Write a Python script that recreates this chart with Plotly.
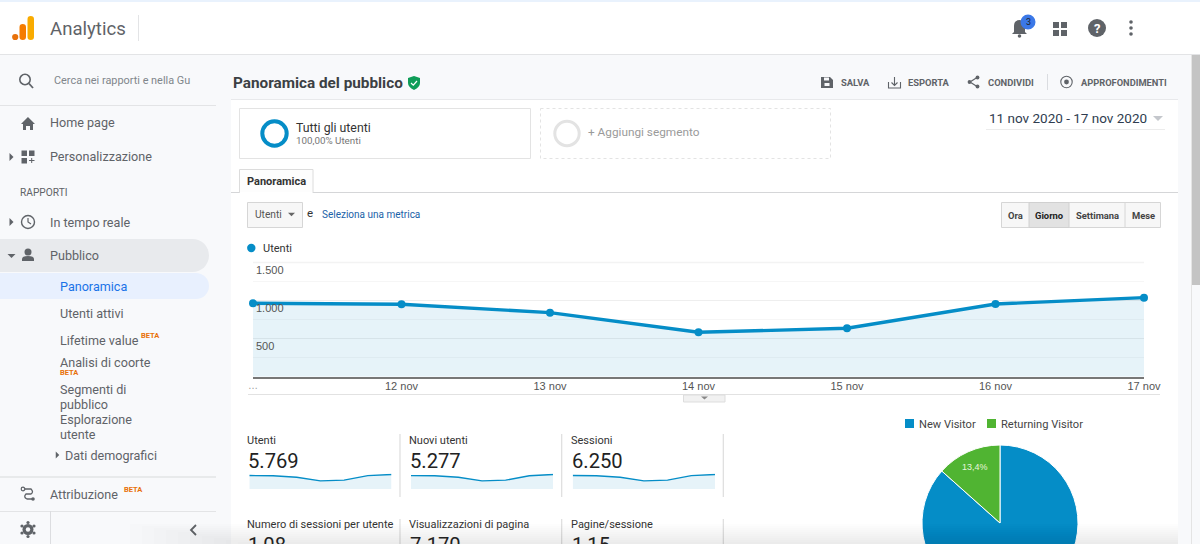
import re
import plotly.graph_objects as go

# ---------- data ----------
days = ["…", "12 nov", "13 nov", "14 nov", "15 nov", "16 nov", "17 nov"]
users = [964, 951, 841, 583, 636, 955, 1038]
new_users = [852, 841, 743, 515, 562, 844, 920]
sessions = [1010, 996, 881, 610, 666, 1000, 1087]
y_ticks = [500, 1000, 1500]
y_tick_labels = ["500", "1.000", "1.500"]
y_minor_ticks = [250, 750, 1250]
pie_labels = ["New Visitor", "Returning Visitor"]
pie_values = [86.6, 13.4]
pie_returning_text = "13,4%"

W, H = 1200, 620
BLUE, GREEN = "#058dc7", "#50b432"
GREY = "#5f6368"
FONT = "Roboto"
ARIAL = "Liberation Sans"
SIDE = 12.6

def px(x): return x / W
def py(y): return 1 - y / H

shapes, notes = [], []

def rect(x0, y0, x1, y1, fill=None, line=None, lw=1, dash=None, layer="below", op=1):
    shapes.append(dict(type="rect", xref="paper", yref="paper", x0=px(x0), x1=px(x1), y0=py(y0), y1=py(y1),
                       fillcolor=fill or "rgba(0,0,0,0)", opacity=op, layer=layer,
                       line=dict(color=line or "rgba(0,0,0,0)", width=lw if line else 0, dash=dash or "solid")))

def hline(x0, x1, y, c="#e0e0e0", lw=1):
    shapes.append(dict(type="line", xref="paper", yref="paper", x0=px(x0), x1=px(x1), y0=py(y), y1=py(y),
                       line=dict(color=c, width=lw), layer="below"))

def vline(x, y0, y1, c="#e0e0e0", lw=1):
    shapes.append(dict(type="line", xref="paper", yref="paper", x0=px(x), x1=px(x), y0=py(y0), y1=py(y1),
                       line=dict(color=c, width=lw), layer="below"))

def circle(cx, cy, r, fill=None, line=None, lw=1, layer="above"):
    shapes.append(dict(type="circle", xref="paper", yref="paper", x0=px(cx - r), x1=px(cx + r), y0=py(cy + r), y1=py(cy - r),
                       fillcolor=fill or "rgba(0,0,0,0)", layer=layer,
                       line=dict(color=line or "rgba(0,0,0,0)", width=lw if line else 0)))

def path(d, fill=None, line=None, lw=1, layer="above"):
    toks = re.findall(r"[A-Za-z]|-?[\d.]+", d)
    out, isx = [], True
    for t in toks:
        if t.isalpha():
            out.append(t)
        else:
            out.append(f"{px(float(t)):.6f}" if isx else f"{py(float(t)):.6f}")
            isx = not isx
    shapes.append(dict(type="path", xref="paper", yref="paper", path=" ".join(out), layer=layer,
                       fillcolor=fill or "rgba(0,0,0,0)",
                       line=dict(color=line or "rgba(0,0,0,0)", width=lw if line else 0)))

def text(x, y, s, size=SIDE, color=GREY, anchor="left", family=FONT, bold=False):
    if anchor == "left":
        x -= 2  # annotation box padding
    notes.append(dict(xref="paper", yref="paper", x=px(x), y=py(y), text=f"<b>{s}</b>" if bold else s, showarrow=False,
                      xanchor=anchor, yanchor="middle", align=anchor,
                      font=dict(size=size, color=color, family=family)))

def tri(cx, cy, w, h, c, down=True):
    if down:
        path(f"M{cx-w/2} {cy-h/2} L{cx+w/2} {cy-h/2} L{cx} {cy+h/2} Z", fill=c)
    else:
        path(f"M{cx-h/2} {cy-w/2} L{cx+h/2} {cy} L{cx-h/2} {cy+w/2} Z", fill=c)

# ---------- page regions ----------
rect(0, 0, 1200, 620, fill="#f8f9fb")
rect(0, 2, 1200, 54, fill="#ffffff")
rect(0, 0, 1200, 2, fill="#e9f2fd")
hline(0, 1200, 54.5, "#e3e4e6", 1)
rect(231, 99, 1178, 620, fill="#ffffff")
hline(231, 1178, 99.5, "#e8e9eb", 1)
rect(1192, 55, 1200, 285, fill="#c4c4c4")
vline(1191.5, 55, 620, "#e4e4e4", 1)

# ---------- top bar ----------
circle(15.2, 37, 3.1, fill="#e8710a")
path("M19.5 27 Q19.5 24 22.7 24 Q26 24 26 27 L26 37 Q26 40 22.7 40 Q19.5 40 19.5 37 Z", fill="#f57c00")
path("M27.5 19 Q27.5 16 30.7 16 Q34 16 34 19 L34 37 Q34 40 30.7 40 Q27.5 40 27.5 37 Z", fill="#f9ab00")
text(50, 29, "Analytics", 18.6, GREY)
vline(138.5, 15, 41, "#e3e4e6")
# bell
path("M1012 34 L1014 32 L1014 26 Q1014 20 1019.5 20 Q1025 20 1025 26 L1025 32 L1027 34 Z", fill=GREY)
circle(1019.5, 36, 1.8, fill=GREY)
circle(1028, 22, 7.5, fill="#3b78e7")
text(1028, 22, "3", 9, "#202124", "center")
# grid
for gx in (1053, 1061):
    for gy in (22, 30):
        rect(gx, gy, gx + 6, gy + 6, fill=GREY, layer="above")
# help
circle(1097, 28, 9, fill=GREY)
text(1097, 28.5, "?", 13, "#ffffff", "center", bold=True)
for dy in (22, 28, 34):
    circle(1131, dy, 1.8, fill=GREY)

# ---------- sidebar ----------
circle(25, 79.5, 5.2, line=GREY, lw=1.6)
path("M29 83.5 L33 88", line=GREY, lw=1.8)
text(54, 80, "Cerca nei rapporti e nella Gu", 10.9, "#80868b")
hline(0, 216, 105.5, "#e3e4e6")
rect(0, 239, 192.5, 272, fill="#e8eaed")
circle(192.5, 255.5, 16.5, fill="#e8eaed", layer="below")
rect(0, 273, 196, 299, fill="#e8f0fe")
circle(196, 286, 13, fill="#e8f0fe", layer="below")
# home
path("M21 124 L28 117 L35 124 L33 124 L33 130 L30 130 L30 126 L26 126 L26 130 L23 130 L23 124 Z", fill=GREY)
text(50, 123, "Home page")
tri(11.5, 157, 8, 4, GREY, down=False)
rect(21.5, 150.5, 27, 156, fill=GREY, layer="above")
rect(29, 150.5, 34.5, 156, fill=GREY, layer="above")
rect(21.5, 158, 27, 163.5, fill=GREY, layer="above")
path("M29 160.5 L34.5 160.5 M31.7 158 L31.7 163", line=GREY, lw=1)
text(50, 157, "Personalizzazione")
text(20, 192, "RAPPORTI", 10.2, GREY)
tri(11.5, 222, 8, 4, GREY, down=False)
circle(28, 222, 6.5, line=GREY, lw=1.4)
path("M28 218 L28 222 L31 224", line=GREY, lw=1.2)
text(50, 222, "In tempo reale")
tri(11.5, 256, 8, 4, GREY)
circle(28, 252, 3.5, fill=GREY)
path("M22 261 L22 259 Q22 256 28 256 Q34 256 34 259 L34 261 Z", fill=GREY)
text(50, 256, "Pubblico")
text(60, 286, "Panoramica", SIDE, "#1a73e8")
text(60, 313, "Utenti attivi")
text(60, 340, "Lifetime value")
text(141, 335, "BETA", 7.5, "#e8710a", bold=True)
text(60, 362, "Analisi di coorte")
text(60, 372, "BETA", 7.5, "#e8710a", bold=True)
text(60, 389, "Segmenti di")
text(60, 404, "pubblico")
text(60, 419, "Esplorazione")
text(60, 434, "utente")
tri(57.5, 455, 7, 3.5, GREY, down=False)
text(65, 455, "Dati demografici")
hline(0, 216, 477, "#e3e4e6", 1.5)
path("M23 489 L31 489 Q34 492 31 494 L26 494 Q23 497 27 499 L32 499", line=GREY, lw=1.3)
circle(23, 489, 1.8, fill="#f8f9fb", line=GREY, lw=1.2)
circle(33, 499, 1.8, fill=GREY)
text(50, 494, "Attribuzione")
text(124, 489, "BETA", 7.5, "#e8710a", bold=True)
hline(0, 216, 511.5, "#e3e4e6")
vline(50.5, 511, 544, "#dcdde0")
circle(28, 529.5, 5.5, fill=GREY)
circle(28, 529.5, 2.2, fill="#f8f9fb")
for a, b in ((28, 522.5), (28, 536.5), (22, 526), (34, 526), (22, 533), (34, 533)):
    circle(a, b, 1.6, fill=GREY)
path("M196 525 L191 530 L196 535", line=GREY, lw=1.8)

# ---------- report header ----------
text(233, 83, "Panoramica del pubblico", 15.3, "#3c4043", bold=True)
path("M408 78 L414 76 L420 78 L420 83 Q420 87 414 90 Q408 87 408 83 Z", fill="#0f9d58")
path("M411 83 L413.3 85.2 L417 81", line="#ffffff", lw=1.2)
# toolbar
path("M821 77 L830 77 L833 80 L833 88 L821 88 Z", fill=GREY)
rect(824, 77.5, 829, 80.5, fill="#f8f9fb", layer="above")
rect(824.5, 83, 829.5, 86, fill="#f8f9fb", layer="above")
text(841, 82.5, "SALVA", 9.4, GREY, bold=True)
path("M888.5 82 L888.5 88 L900.5 88 L900.5 82 M894.5 77 L894.5 85 M891.5 82.5 L894.5 85.5 L897.5 82.5", line=GREY, lw=1.1)
text(908, 82.5, "ESPORTA", 9.4, GREY, bold=True)
path("M977 77.5 L970 82 L977 86.5", line=GREY, lw=1.2)
circle(977.5, 77.5, 1.9, fill=GREY)
circle(969.5, 82, 1.9, fill=GREY)
circle(977.5, 86.5, 1.9, fill=GREY)
text(988, 82.5, "CONDIVIDI", 9.4, GREY, bold=True)
vline(1047.5, 74, 90, "#dadce0")
circle(1066.5, 82, 5.7, line=GREY, lw=1.1)
circle(1066.5, 82, 2.4, fill=GREY)
text(1081, 82.5, "APPROFONDIMENTI", 9.3, GREY, bold=True)

# segments
rect(239.5, 108.5, 530.5, 158.5, fill="#ffffff", line="#e3e3e3")
circle(274.5, 133.5, 12.2, line=BLUE, lw=4)
text(296, 127.5, "Tutti gli utenti", 12.3, "#333333")
text(296, 140, "100,00% Utenti", 9.8, "#777777")
rect(540.5, 108.5, 830.5, 158.5, fill="#ffffff", line="#e3e3e3", dash="dot")
circle(567, 133.5, 12.2, line="#e3e3e3", lw=3)
text(588, 132, "+ Aggiungi segmento", 11.8, "#9a9a9a")
text(989, 118, "11 nov 2020 - 17 nov 2020", 13.5, "#2f3d50")
tri(1158, 118.5, 10, 5, "#c4c7cc")
hline(986, 1165, 129.5, "#ececec")

# tab
hline(231, 1178, 192.5, "#d5d6d8")
rect(239.5, 169.5, 313, 192.5, fill="#fdfdfd", line="#dcdcdc")
hline(240, 312.5, 192.5, "#ffffff", 1.5)
text(247, 181, "Panoramica", 11, "#333333", bold=True)

# controls
rect(247.5, 202.5, 302.5, 227.5, fill="#f7f7f7", line="#d6d6d6")
text(255, 214.5, "Utenti", 10.2, "#555555")
tri(291.5, 214.5, 7, 3.5, "#666666")
text(307, 213, "e", 11.5, "#333333")
text(322, 214.5, "Seleziona una metrica", 10, "#1a62a8")
rect(1001.5, 202.5, 1160.5, 227.5, fill="#f7f7f7", line="#d6d6d6")
rect(1029, 202.5, 1069, 227.5, fill="#e2e2e2", line="#d0d0d0")
vline(1125, 203, 227, "#d6d6d6")
text(1015, 215, "Ora", 9.4, "#444444", "center", bold=True)
text(1049.3, 215, "Giorno", 9.4, "#222222", "center", bold=True)
text(1097, 215, "Settimana", 9.4, "#444444", "center", bold=True)
text(1143, 215, "Mese", 9.4, "#444444", "center", bold=True)

# main chart legend
circle(251.3, 248, 4.2, fill=BLUE)
text(263, 248.5, "Utenti", 11, "#333333")
hline(248, 1160, 394.5, "#e2e2e2", 1.2)
rect(683.5, 395, 725, 402, fill="#f1f1f1", line="#dddddd", op=1)
tri(704.5, 398, 7, 3, "#888888")
hline(253, 1144, 262.5, "#f3f3f3", 1.5)
text(253, 385, days[0], 10, "#999999", "center", ARIAL)

# metrics tiles
tile_x = [247, 409, 571]
for x0, lab, val in zip(tile_x, ["Utenti", "Nuovi utenti", "Sessioni"], ["5.769", "5.277", "6.250"]):
    text(x0, 440, lab, 11, "#333333")
    text(x0 + 0.5, 461, val, 20.2, "#222222")
for x0, lab, val in zip(tile_x, ["Numero di sessioni per utente", "Visualizzazioni di pagina", "Pagine/sessione"],
                        ["1,08", "7.170", "1,15"]):
    text(x0, 524.5, lab, 11, "#333333")
    text(x0 + 0.5, 545, val, 20.2, "#222222")
for vx in (400, 561.7, 723.3):
    vline(vx, 434, 497, "#dddddd", 1.2)
    vline(vx, 519, 620, "#dddddd", 1.2)

# pie legend
rect(905, 419, 914, 428, fill=BLUE)
text(919, 424, pie_labels[0], 11.1, "#444444")
rect(987, 419, 996, 428, fill=GREEN)
text(1001, 424, pie_labels[1], 11.1, "#444444")
text(975, 467, pie_returning_text, 9, "#e6f4dc", "center", ARIAL)

# bottom fade
for i in range(10):
    rect(130 + i * 12, 524 + i * 2, 1178, 620, fill="#000000", layer="above", op=0.007)

# ---------- traces ----------
fig = go.Figure()
fig.add_trace(go.Scatter(x=days, y=users, mode="lines+markers", fill="tozeroy", fillcolor="rgba(5,141,199,0.1)",
                         line=dict(color=BLUE, width=3.4), marker=dict(color=BLUE, size=8),
                         cliponaxis=False, name="Utenti", showlegend=False))

spark_boxes = [(249.3, 391.5), (411, 553), (572.7, 715)]
spark_series = [users, new_users, sessions]
spark_names = ["Utenti", "Nuovi utenti", "Sessioni"]
for i, (vals, nm) in enumerate(zip(spark_series, spark_names), start=2):
    fig.add_trace(go.Scatter(x=days, y=vals, mode="lines", fill="tozeroy", fillcolor="#e6f3f9",
                             line=dict(color=BLUE, width=1.4), name=nm, showlegend=False,
                             xaxis=f"x{i}", yaxis=f"y{i}", cliponaxis=False))

fig.add_trace(go.Pie(labels=pie_labels, values=pie_values, textinfo="none", sort=False,
                     direction="clockwise", rotation=0,
                     marker=dict(colors=[BLUE, GREEN], line=dict(color="#ffffff", width=1)),
                     domain=dict(x=[px(922), px(1078)], y=[py(601), py(445)]), showlegend=False))

layout = dict(
    width=W, height=H, autosize=False, margin=dict(l=0, r=0, t=0, b=0, pad=0, autoexpand=False),
    paper_bgcolor="#f8f9fb", plot_bgcolor="rgba(0,0,0,0)", shapes=shapes, annotations=notes, showlegend=False,
    xaxis=dict(domain=[px(253), px(1144)], type="category", range=[0, 6], showgrid=False, zeroline=False,
               showline=True, linecolor="#777777", linewidth=1.5, ticks="", ticklabelstandoff=-2,
               tickfont=dict(size=11, color="#555555", family=ARIAL)),
    yaxis=dict(domain=[py(376.7), py(262.5)], range=[0, 1500], tickmode="array", tickvals=y_ticks, ticktext=y_tick_labels,
               ticklabelposition="inside bottom", ticks="", showline=False, zeroline=False,
               showgrid=True, gridcolor="#eeeeee", gridwidth=1,
               minor=dict(tickmode="array", tickvals=y_minor_ticks, showgrid=True, gridcolor="#f6f6f6", gridwidth=1, ticks=""),
               tickfont=dict(size=11, color="#555555", family=ARIAL)),
)
for i, ((x0, x1), vals) in enumerate(zip(spark_boxes, spark_series), start=2):
    layout[f"xaxis{i}"] = dict(domain=[px(x0), px(x1)], type="category", range=[0, 6], visible=False, anchor=f"y{i}")
    layout[f"yaxis{i}"] = dict(domain=[py(489), py(473.5)], range=[0, max(vals) * 1.07], visible=False, anchor=f"x{i}")
fig.update_layout(**layout)

fig.write_html("out.html", config=dict(displayModeBar=False),
               post_script="document.documentElement.style.overflow='hidden';document.body.style.overflow='hidden';document.body.style.margin='0';")
